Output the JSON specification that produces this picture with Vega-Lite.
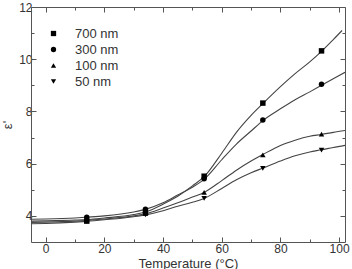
{
  "$schema": "https://vega.github.io/schema/vega-lite/v6.json",
  "width": 314,
  "height": 235,
  "autosize": "none",
  "padding": {"left": 31, "top": 7, "right": 7, "bottom": 27},
  "background": "white",
  "config": {"view": {"stroke": null}, "font": "Liberation Sans"},
  "datasets": {
    "curves": [
      {"T": -5, "v": 3.80, "series": "700 nm"}, {"T": 0, "v": 3.81, "series": "700 nm"}, {"T": 10, "v": 3.84, "series": "700 nm"}, {"T": 14, "v": 3.86, "series": "700 nm"}, {"T": 20, "v": 3.92, "series": "700 nm"}, {"T": 30, "v": 4.05, "series": "700 nm"}, {"T": 34, "v": 4.15, "series": "700 nm"}, {"T": 40, "v": 4.45, "series": "700 nm"}, {"T": 45, "v": 4.75, "series": "700 nm"}, {"T": 50, "v": 5.15, "series": "700 nm"}, {"T": 54, "v": 5.5, "series": "700 nm"}, {"T": 60, "v": 6.4, "series": "700 nm"}, {"T": 65, "v": 7.2, "series": "700 nm"}, {"T": 70, "v": 7.85, "series": "700 nm"}, {"T": 74, "v": 8.3, "series": "700 nm"}, {"T": 80, "v": 8.95, "series": "700 nm"}, {"T": 85, "v": 9.45, "series": "700 nm"}, {"T": 90, "v": 9.9, "series": "700 nm"}, {"T": 94, "v": 10.3, "series": "700 nm"}, {"T": 98, "v": 10.75, "series": "700 nm"}, {"T": 101, "v": 11.1, "series": "700 nm"},
      {"T": -5, "v": 3.87, "series": "300 nm"}, {"T": 0, "v": 3.88, "series": "300 nm"}, {"T": 10, "v": 3.92, "series": "300 nm"}, {"T": 14, "v": 3.95, "series": "300 nm"}, {"T": 20, "v": 4.0, "series": "300 nm"}, {"T": 30, "v": 4.15, "series": "300 nm"}, {"T": 34, "v": 4.25, "series": "300 nm"}, {"T": 40, "v": 4.5, "series": "300 nm"}, {"T": 45, "v": 4.8, "series": "300 nm"}, {"T": 50, "v": 5.1, "series": "300 nm"}, {"T": 54, "v": 5.4, "series": "300 nm"}, {"T": 60, "v": 6.15, "series": "300 nm"}, {"T": 65, "v": 6.75, "series": "300 nm"}, {"T": 70, "v": 7.25, "series": "300 nm"}, {"T": 74, "v": 7.65, "series": "300 nm"}, {"T": 80, "v": 8.1, "series": "300 nm"}, {"T": 85, "v": 8.45, "series": "300 nm"}, {"T": 90, "v": 8.75, "series": "300 nm"}, {"T": 94, "v": 9.0, "series": "300 nm"}, {"T": 98, "v": 9.25, "series": "300 nm"}, {"T": 102, "v": 9.5, "series": "300 nm"},
      {"T": -5, "v": 3.75, "series": "100 nm"}, {"T": 0, "v": 3.76, "series": "100 nm"}, {"T": 10, "v": 3.8, "series": "100 nm"}, {"T": 14, "v": 3.83, "series": "100 nm"}, {"T": 20, "v": 3.88, "series": "100 nm"}, {"T": 30, "v": 4.0, "series": "100 nm"}, {"T": 34, "v": 4.08, "series": "100 nm"}, {"T": 40, "v": 4.3, "series": "100 nm"}, {"T": 45, "v": 4.5, "series": "100 nm"}, {"T": 50, "v": 4.72, "series": "100 nm"}, {"T": 54, "v": 4.9, "series": "100 nm"}, {"T": 60, "v": 5.35, "series": "100 nm"}, {"T": 65, "v": 5.75, "series": "100 nm"}, {"T": 70, "v": 6.1, "series": "100 nm"}, {"T": 74, "v": 6.35, "series": "100 nm"}, {"T": 80, "v": 6.7, "series": "100 nm"}, {"T": 85, "v": 6.9, "series": "100 nm"}, {"T": 90, "v": 7.05, "series": "100 nm"}, {"T": 94, "v": 7.12, "series": "100 nm"}, {"T": 98, "v": 7.2, "series": "100 nm"}, {"T": 102, "v": 7.27, "series": "100 nm"},
      {"T": -5, "v": 3.7, "series": "50 nm"}, {"T": 0, "v": 3.71, "series": "50 nm"}, {"T": 10, "v": 3.76, "series": "50 nm"}, {"T": 14, "v": 3.79, "series": "50 nm"}, {"T": 20, "v": 3.85, "series": "50 nm"}, {"T": 30, "v": 3.97, "series": "50 nm"}, {"T": 34, "v": 4.04, "series": "50 nm"}, {"T": 40, "v": 4.2, "series": "50 nm"}, {"T": 45, "v": 4.37, "series": "50 nm"}, {"T": 50, "v": 4.52, "series": "50 nm"}, {"T": 54, "v": 4.67, "series": "50 nm"}, {"T": 60, "v": 5.05, "series": "50 nm"}, {"T": 65, "v": 5.38, "series": "50 nm"}, {"T": 70, "v": 5.65, "series": "50 nm"}, {"T": 74, "v": 5.83, "series": "50 nm"}, {"T": 80, "v": 6.1, "series": "50 nm"}, {"T": 85, "v": 6.3, "series": "50 nm"}, {"T": 90, "v": 6.45, "series": "50 nm"}, {"T": 94, "v": 6.53, "series": "50 nm"}, {"T": 98, "v": 6.62, "series": "50 nm"}, {"T": 102, "v": 6.7, "series": "50 nm"}
    ],
    "points": [
      {"T": 14, "v": 3.8, "series": "700 nm"}, {"T": 34, "v": 4.12, "series": "700 nm"}, {"T": 54, "v": 5.52, "series": "700 nm"}, {"T": 74, "v": 8.32, "series": "700 nm"}, {"T": 94, "v": 10.32, "series": "700 nm"},
      {"T": 14, "v": 3.95, "series": "300 nm"}, {"T": 34, "v": 4.25, "series": "300 nm"}, {"T": 54, "v": 5.42, "series": "300 nm"}, {"T": 74, "v": 7.67, "series": "300 nm"}, {"T": 94, "v": 9.04, "series": "300 nm"},
      {"T": 14, "v": 3.85, "series": "100 nm"}, {"T": 34, "v": 4.1, "series": "100 nm"}, {"T": 54, "v": 4.9, "series": "100 nm"}, {"T": 74, "v": 6.34, "series": "100 nm"}, {"T": 94, "v": 7.13, "series": "100 nm"},
      {"T": 14, "v": 3.79, "series": "50 nm"}, {"T": 34, "v": 4.04, "series": "50 nm"}, {"T": 54, "v": 4.67, "series": "50 nm"}, {"T": 74, "v": 5.82, "series": "50 nm"}, {"T": 94, "v": 6.52, "series": "50 nm"}
    ]
  },
  "layer": [
    {
      "data": {"name": "curves"},
      "mark": {"type": "line", "interpolate": "monotone", "color": "#444", "strokeWidth": 1.1, "clip": true},
      "encoding": {
        "x": {"field": "T", "type": "quantitative", "scale": {"domain": [-5, 102], "nice": false, "zero": false},
          "axis": {"orient": "bottom", "values": [0, 10, 20, 30, 40, 50, 60, 70, 80, 90, 100],
            "labelExpr": "datum.value % 20 === 0 ? datum.label : ''",
            "tickSize": {"condition": {"test": "datum.value % 20 === 0", "value": -5}, "value": -3},
            "grid": false, "domainColor": "#555", "tickColor": "#555", "labelColor": "#333",
            "labelFont": "Liberation Sans", "labelFontSize": 12, "labelPadding": 6,
            "title": "Temperature (°C)", "titleFont": "Liberation Sans", "titleFontSize": 13, "titleFontWeight": "normal", "titleColor": "#333", "titlePadding": 3}},
        "y": {"field": "v", "type": "quantitative", "scale": {"domain": [3, 12], "nice": false, "zero": false},
          "axis": {"orient": "left", "values": [4, 5, 6, 7, 8, 9, 10, 11, 12],
            "labelExpr": "datum.value % 2 === 0 ? datum.label : ''",
            "tickSize": {"condition": {"test": "datum.value % 2 === 0", "value": -5}, "value": -3},
            "grid": false, "domainColor": "#555", "tickColor": "#555", "labelColor": "#333",
            "labelFont": "Liberation Sans", "labelFontSize": 12, "labelPadding": 4,
            "title": "ε'", "titleFont": "Liberation Sans", "titleFontSize": 13, "titleFontWeight": "normal", "titleColor": "#333", "titlePadding": 4}},
        "detail": {"field": "series"}
      }
    },
    {
      "data": {"name": "points"},
      "mark": {"type": "point", "filled": true, "color": "black", "opacity": 1, "size": 30},
      "encoding": {
        "x": {"field": "T", "type": "quantitative",
          "axis": {"orient": "top", "values": [0, 10, 20, 30, 40, 50, 60, 70, 80, 90, 100], "labels": false, "title": null,
            "tickSize": {"condition": {"test": "datum.value % 20 === 0", "value": -5}, "value": -3},
            "grid": false, "domainColor": "#555", "tickColor": "#555"}},
        "y": {"field": "v", "type": "quantitative",
          "axis": {"orient": "right", "values": [4, 5, 6, 7, 8, 9, 10, 11, 12], "labels": false, "title": null,
            "tickSize": {"condition": {"test": "datum.value % 2 === 0", "value": -5}, "value": -3},
            "grid": false, "domainColor": "#555", "tickColor": "#555"}},
        "shape": {"field": "series", "type": "nominal",
          "scale": {"domain": ["700 nm", "300 nm", "100 nm", "50 nm"], "range": ["square", "circle", "triangle-up", "triangle-down"]},
          "legend": {"orient": "none", "legendX": 16, "legendY": 20, "title": null, "padding": 0,
            "symbolSize": 28, "symbolFillColor": "black", "symbolStrokeColor": "black",
            "labelFont": "Liberation Sans", "labelFontSize": 13, "labelColor": "#333", "labelOffset": 15, "rowPadding": 2}}
      }
    }
  ],
  "resolve": {"axis": {"x": "independent", "y": "independent"}}
}
